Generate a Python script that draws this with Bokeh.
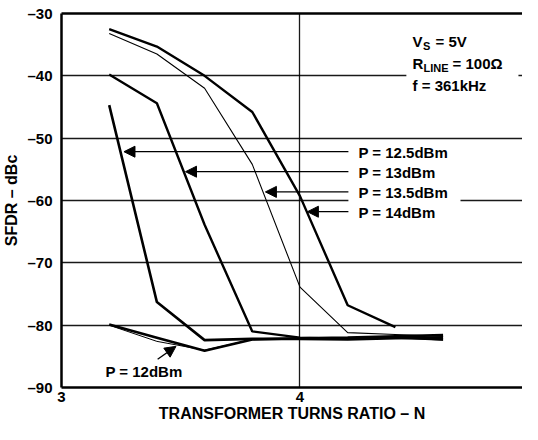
from bokeh.plotting import figure
from bokeh.models import Range1d, FixedTicker, Arrow, NormalHead, Label, LinearAxis
from bokeh.embed import file_html
from bokeh.resources import INLINE

# ---- data ----
turns = [3.2, 3.4, 3.6, 3.8, 4.0, 4.2, 4.4, 4.6]
sfdr_14 = [-32.5, -35.3, -40.0, -45.8, -59.3, -76.8, -80.3]
sfdr_13_5 = [-33.2, -36.5, -42.0, -54.2, -73.9, -81.2, -81.5, -81.8]
sfdr_13 = [-39.8, -44.4, -63.9, -81.0, -82.0, -82.2, -82.0, -82.3]
sfdr_12_5 = [-44.7, -76.3, -82.4, -82.2, -82.2, -82.3, -82.1, -82.0]
sfdr_12 = [-79.9, -82.0, -84.1, -82.3, -82.1, -82.0, -81.8, -81.6]
sfdr_12_b = [-80.0, -82.6, -84.0, -82.3, -82.2, -82.1, -82.0, -82.4]

x_ticks = [3, 4, 5]
y_ticks = [-90, -80, -70, -60, -50, -40, -30]
y_grid = [-80, -70, -60, -50, -40]
x_grid = [4]

FONT = "Liberation Sans"
BLACK = "#000000"

p = figure(width=522, height=424, output_backend="svg", toolbar_location=None,
           x_range=Range1d(3, 4.933), y_range=Range1d(-90, -30),
           min_border_left=61, min_border_right=0, min_border_top=13, min_border_bottom=36)
p.background_fill_color = "white"
p.border_fill_color = "white"
p.outline_line_color = None

# grid
p.xgrid.ticker = FixedTicker(ticks=x_grid)
p.ygrid.ticker = FixedTicker(ticks=y_grid)
for g in (p.xgrid, p.ygrid):
    g.grid_line_color = BLACK
    g.grid_line_width = 1.3
    g.grid_line_alpha = 0.9

# top frame edge as an unlabeled axis
top = LinearAxis(ticker=FixedTicker(ticks=[]), major_label_text_font_size="0px",
                 major_label_standoff=0, major_tick_in=0, major_tick_out=0,
                 minor_tick_in=0, minor_tick_out=0,
                 axis_line_color=BLACK, axis_line_width=2.5,
                 major_tick_line_color=None, minor_tick_line_color=None)
p.add_layout(top, "above")

# axes
xa = p.below[0]
ya = p.left[0]
xa.ticker = FixedTicker(ticks=x_ticks)
ya.ticker = FixedTicker(ticks=y_ticks)
ya.major_label_overrides = {t: "\u2013%d" % abs(t) for t in y_ticks}
for ax in (xa, ya):
    ax.axis_line_color = BLACK
    ax.axis_line_width = 2.5
    ax.major_tick_line_color = None
    ax.minor_tick_line_color = None
    ax.major_tick_in = 0
    ax.major_tick_out = 0
    ax.minor_tick_in = 0
    ax.minor_tick_out = 0
    ax.major_label_text_font = FONT
    ax.major_label_text_font_style = "bold"
    ax.major_label_text_font_size = "15px"
    ax.major_label_text_color = BLACK
    ax.axis_label_text_font = FONT
    ax.axis_label_text_font_style = "bold"
    ax.axis_label_text_font_size = "16px"
    ax.axis_label_text_color = BLACK
xa.major_label_standoff = 4
ya.major_label_standoff = 9
xa.axis_label = "TRANSFORMER TURNS RATIO \u2013 N"
ya.axis_label = "SFDR \u2013 dBc"
xa.axis_label_standoff = 0
ya.axis_label_standoff = 4

# white boxes breaking the grid lines behind the text blocks
p.quad(left=[4.446, 4.203], right=[4.916, 4.673], top=[-32.5, -50.7], bottom=[-43.5, -63.2],
       fill_color="white", line_color=None)

# curves
p.line(turns[:len(sfdr_14)], sfdr_14, line_color=BLACK, line_width=2.4)
p.line(turns, sfdr_13_5, line_color=BLACK, line_width=1.1)
p.line(turns, sfdr_13, line_color=BLACK, line_width=2.4)
p.line(turns, sfdr_12_5, line_color=BLACK, line_width=2.6)
p.line(turns, sfdr_12_b, line_color=BLACK, line_width=1.0)
p.line(turns, sfdr_12, line_color=BLACK, line_width=2.6)

# arrows
def arrow(x0, y0, x1, y1):
    p.add_layout(Arrow(end=NormalHead(size=11, fill_color=BLACK, line_color=BLACK, line_width=1),
                       x_start=x0, y_start=y0, x_end=x1, y_end=y1,
                       line_color=BLACK, line_width=1.3))

arrow(4.203, -52.17, 3.262, -52.17)
arrow(4.203, -55.38, 3.520, -55.38)
arrow(4.203, -58.62, 3.855, -58.62)
arrow(4.203, -61.80, 4.031, -61.80)
arrow(3.403, -85.46, 3.480, -83.40)

def label(x, y, text, size="15px", xo=0, yo=0):
    p.add_layout(Label(x=x, y=y, text=text, x_offset=xo, y_offset=yo,
                       text_font=FONT, text_font_style="bold", text_font_size=size,
                       text_color=BLACK, text_baseline="middle", text_align="left"))

label(4.245, -52.25, "P = 12.5dBm")
label(4.245, -55.49, "P = 13dBm")
label(4.245, -58.78, "P = 13.5dBm")
label(4.245, -61.96, "P = 14dBm")
label(3.184, -87.5, "P = 12dBm")

# conditions block with subscripts
label(4.472, -34.5, "V")
label(4.472, -34.5, "S", size="11px", xo=10.5, yo=-4)
label(4.472, -34.5, "= 5V", xo=23)
label(4.472, -38.1, "R")
label(4.472, -38.1, "LINE", size="11px", xo=11, yo=-4)
label(4.472, -38.1, "= 100\u03a9", xo=40)
label(4.472, -41.6, "f = 361kHz")

open("out.html", "w").write(file_html(p, INLINE))
